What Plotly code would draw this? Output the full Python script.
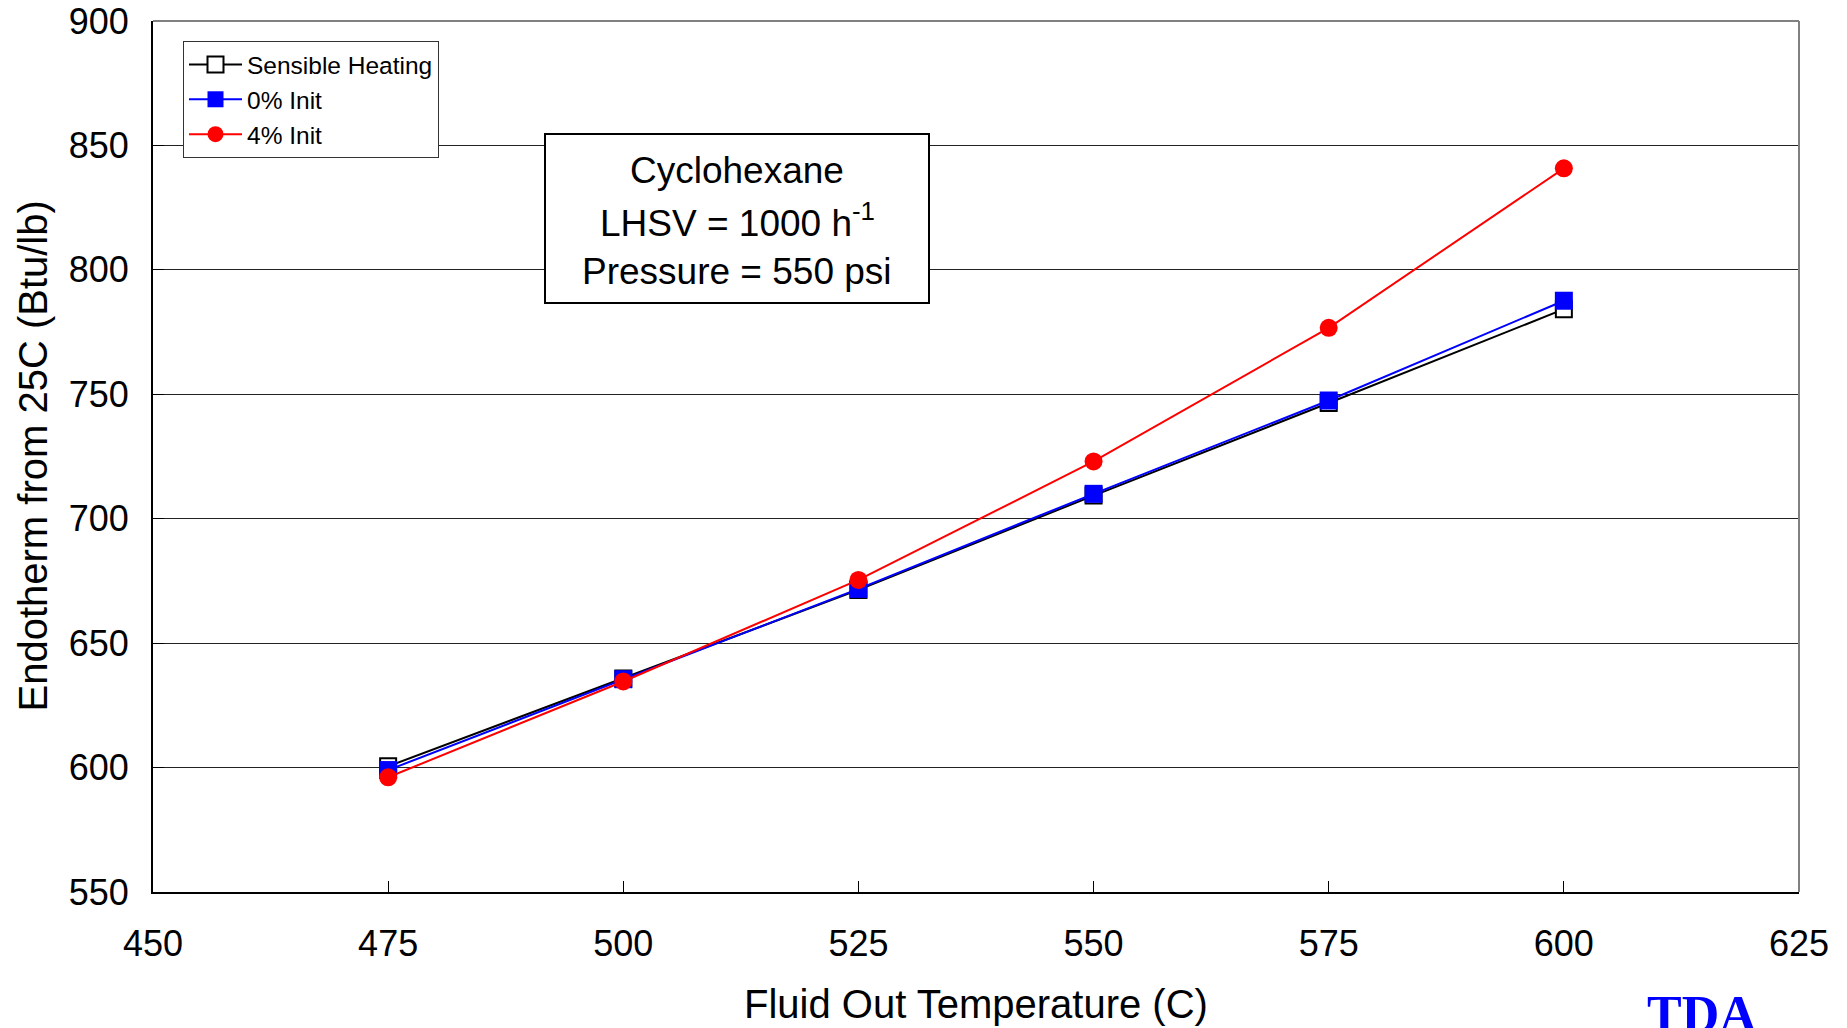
import plotly.graph_objects as go

temps = [475, 500, 525, 550, 575, 600]
sensible = [600.5, 635.8, 671.4, 709.3, 746.5, 784.2]
init0 = [599.0, 635.5, 671.8, 710.0, 747.5, 787.6]
init4 = [596.1, 634.6, 675.4, 723.0, 776.7, 840.8]

x_ticks = [450, 475, 500, 525, 550, 575, 600, 625]
y_ticks = [550, 600, 650, 700, 750, 800, 850, 900]

box_lines = ["Cyclohexane", "LHSV = 1000 h<sup>-1</sup>", "Pressure = 550 psi"]

FONT = "Liberation Sans, Arial, sans-serif"
W, H = 1847, 1028
L, R, T, B = 153, 48, 21, 136
PW, PH = W - L - R, H - T - B


def px_x(p):
    return (p - L) / PW


def px_y(p):
    return (H - B - p) / PH


fig = go.Figure()
fig.add_trace(go.Scatter(
    x=temps, y=sensible, name="Sensible Heating", mode="lines+markers",
    legendgroup="a",
    line=dict(color="black", width=2),
    marker=dict(symbol="square", size=16, color="white", line=dict(color="black", width=2)),
))
fig.add_trace(go.Scatter(
    x=temps, y=init0, name="0% Init", mode="lines+markers",
    legendgroup="b",
    line=dict(color="#0000FF", width=2),
    marker=dict(symbol="square", size=18, color="#0000FF"),
))
fig.add_trace(go.Scatter(
    x=temps, y=init4, name="4% Init", mode="lines+markers",
    legendgroup="c",
    line=dict(color="#FF0000", width=2),
    marker=dict(symbol="circle", size=18, color="#FF0000"),
))

annotations = [
    dict(xref="paper", yref="paper", x=px_x(32), y=0.5, xanchor="center", yanchor="middle",
         text="Endotherm from 25C (Btu/lb)", textangle=-90, showarrow=False,
         font=dict(size=40, family=FONT, color="black")),
    dict(xref="paper", yref="paper", x=0.5, y=px_y(1004), xanchor="center", yanchor="middle",
         text="Fluid Out Temperature (C)", showarrow=False,
         font=dict(size=40, family=FONT, color="black")),
    dict(xref="paper", yref="paper", x=px_x(1702), y=px_y(984),
         xanchor="center", yanchor="top",
         text="<b>TDA</b>", showarrow=False,
         font=dict(size=52, family="Liberation Serif, Times New Roman, serif", color="#0000FF")),
]
for i, (txt, cy) in enumerate(zip(box_lines, [170, 220, 271])):
    annotations.append(dict(
        xref="paper", yref="paper", x=px_x(737), y=px_y(cy),
        xanchor="center", yanchor="middle", text=txt, showarrow=False,
        font=dict(size=37, family=FONT, color="black")))

fig.update_layout(
    width=W, height=H,
    margin=dict(l=L, r=R, t=T, b=B, autoexpand=False),
    paper_bgcolor="white", plot_bgcolor="white",
    font=dict(family=FONT, color="black"),
    showlegend=True,
    legend=dict(
        x=px_x(183), y=px_y(41), xanchor="left", yanchor="top",
        bgcolor="white", bordercolor="#333", borderwidth=1,
        font=dict(size=24.5, family=FONT),
        tracegroupgap=10, traceorder="normal", itemwidth=53,
    ),
    xaxis=dict(
        range=[450, 625], tickvals=x_ticks, ticktext=[str(v) for v in x_ticks],
        showgrid=False, zeroline=False, automargin=False,
        showline=True, linecolor="black", linewidth=2,
        ticks="inside", ticklen=11, tickcolor="black", tickwidth=1,
        tickfont=dict(size=36, family=FONT),
        ticklabelstandoff=19,
    ),
    yaxis=dict(
        range=[550, 900], tickvals=y_ticks, ticktext=[str(v) for v in y_ticks],
        showgrid=True, gridcolor="#222", gridwidth=1, zeroline=False, automargin=False,
        showline=True, linecolor="black", linewidth=2,
        ticks="inside", ticklen=11, tickcolor="black", tickwidth=1,
        tickfont=dict(size=36, family=FONT),
        ticklabelstandoff=15,
    ),
    shapes=[
        dict(type="line", xref="paper", yref="paper", x0=0, x1=1, y0=1, y1=1,
             line=dict(color="#808080", width=2), layer="above"),
        dict(type="line", xref="paper", yref="paper", x0=1, x1=1, y0=0, y1=1,
             line=dict(color="#808080", width=2), layer="above"),
        dict(type="rect", xref="paper", yref="paper",
             x0=px_x(545), x1=px_x(929), y0=px_y(303), y1=px_y(134),
             line=dict(color="black", width=2), fillcolor="white", layer="above"),
    ],
    annotations=annotations,
)

fig.write_html("out.html")
